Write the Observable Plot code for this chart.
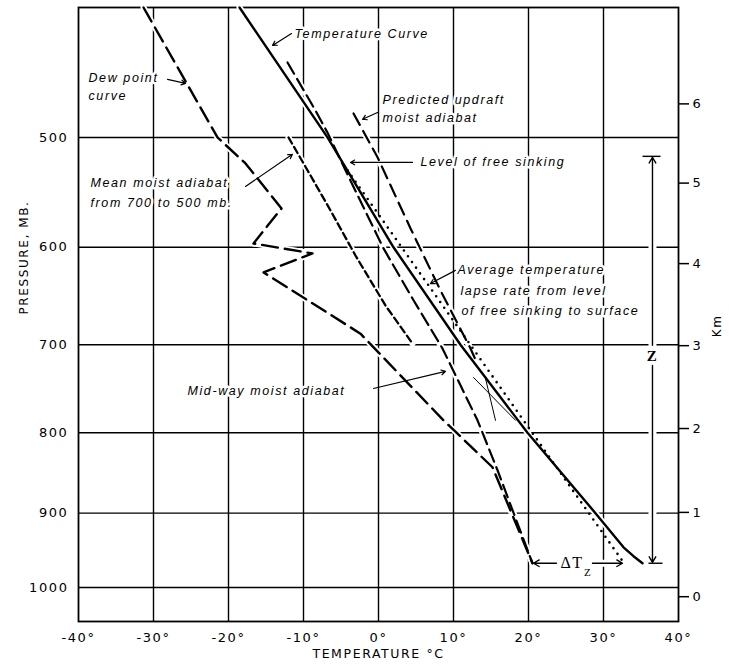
<!DOCTYPE html>
<html><head><meta charset="utf-8">
<script src="https://cdn.jsdelivr.net/npm/d3@7"></script>
<script src="https://cdn.jsdelivr.net/npm/@observablehq/plot@0.6"></script>
<style>body{margin:0;background:#fff}</style>
</head><body>
<div id="chart"></div>
<script>
// Axes / ticks
const tempTicks = [-40, -30, -20, -10, 0, 10, 20, 30, 40];
const tempGrid = [-30, -20, -10, 0, 10, 20, 30];
const pressureTicks = [500, 600, 700, 800, 900, 1000];
const kmPressure = [1013, 899, 795, 701, 616, 540, 472];
const kmLabels = ["0", "1", "2", "3", "4", "5", "6"];

// Series (temperature °C, pressure mb)
const tempCurveT = [-18.53, -6.8, 2.0, 10.93, 19.87, 28.93, 32.67, 34.0, 35.2];
const tempCurveP = [397.8, 500, 600, 700, 800, 900, 945, 957, 966.6];

const dewPointT = [-31.33, -21.47, -17.73, -12.93, -16.67, -8.8, -15.33, -2.4, 8.67, 15.2, 20.53];
const dewPointP = [397.8, 500, 522.5, 563.1, 596.3, 606.0, 624.7, 688.1, 785.3, 841.9, 966.6];

const midwayT = [-12.13, -8.4, -6.8, -4.4, -2.13, 0.67, 4.53, 8.53, 13.2, 15.87, 20.53];
const midwayP = [439.0, 477.5, 495.9, 528.6, 560.3, 601.1, 651.1, 704.0, 785.3, 845.6, 966.6];

const updraftT = [-3.33, -0.13, 4.27, 8.27, 12.27, 13.07];
const updraftP = [479.9, 517.1, 581.9, 643.0, 704.0, 719.0];

const meanMoistT = [-12.0, -9.07, -6.4, -3.07, 0.93, 4.53];
const meanMoistP = [500, 533.1, 565.0, 608.0, 658.4, 698.6];

const avgLapseT = [-4.13, 32.67];
const avgLapseP = [528.6, 965.5];

const construct1T = [12.67, 18.27];
const construct1P = [736.1, 785.3];
const construct2T = [14.27, 15.6];
const construct2P = [737.3, 785.3];

// Annotation texts
const labelTexts = ["Dew point", "curve", "Temperature Curve", "Predicted updraft", "moist adiabat",
  "Level of free sinking", "Mean moist adiabat", "from 700 to 500 mb.", "Average temperature",
  "lapse rate from level", "of free sinking to surface", "Mid-way moist adiabat"];
const labelT = [-38.67, -38.67, -11.2, 0.53, 0.53, 5.6, -38.4, -38.4, 10.53, 10.93, 11.07, -25.47];
const labelP = [451, 465.2, 417.6, 469.2, 483.9, 521.6, 540.3, 558.5, 622.7, 643.0, 663.7, 751.0];

// Leader arrows [T1, P1, T2, P2]
const leaderT1 = [-28.13, -11.6, -0.13, 4.53, -17.73, 10.27, -0.67];
const leaderP1 = [452.3, 417.0, 479.1, 521.6, 543.0, 622.7, 748.5];
const leaderT2 = [-25.73, -14.13, -2.13, -3.73, -11.47, 6.93, 8.93];
const leaderP2 = [455.5, 425.9, 484.7, 521.6, 514.5, 635.9, 729.3];

// Z and ΔTz construction
const zT = 36.53;
const zTopP = 517.1, zBotP = 965.5, zGapTopP = 700.5, zGapBotP = 722.6, zLabelP = 712.0;
const zBarP = [516.3, 966.6];
const zBarT1 = [35.2, 36.0];
const zBarT2 = [37.6, 37.87];
const dtP = 966.6;
const dtArrowT1 = [23.73, 28.53];
const dtArrowT2 = [20.67, 32.53];

const rows = (T, P) => T.map((t, i) => ({t, p: P[i]}));
const kmMap = new Map(kmPressure.map((p, i) => [p, kmLabels[i]]));

const series = [
  {data: rows(tempCurveT, tempCurveP), w: 2.4},
  {data: rows(dewPointT, dewPointP), w: 2.4, dash: "16,7"},
  {data: rows(midwayT, midwayP), w: 2.2, dash: "13,6"},
  {data: rows(updraftT, updraftP), w: 2.2, dash: "13,7"},
  {data: rows(meanMoistT, meanMoistP), w: 2.3, dash: "7,4"}
];

const labels = labelTexts.map((s, i) => ({s, t: labelT[i], p: labelP[i]}));
const leaders = leaderT1.map((t, i) => ({t1: t, p1: leaderP1[i], t2: leaderT2[i], p2: leaderP2[i]}));
const zArrows = [{t: zT, p1: zGapTopP, p2: zTopP}, {t: zT, p1: zGapBotP, p2: zBotP}];
const zBars = zBarP.map((p, i) => ({p, t1: zBarT1[i], t2: zBarT2[i]}));
const dtArrows = dtArrowT1.map((t, i) => ({t1: t, t2: dtArrowT2[i], p: dtP}));

const italic = {fontFamily: "Liberation Sans, Arial, sans-serif", fontStyle: "italic", fontSize: 12.5};

const svg = Plot.plot({
  width: 729,
  height: 666,
  marginTop: 7,
  marginBottom: 45,
  marginLeft: 78,
  marginRight: 51,
  x: {domain: [-40, 40]},
  y: {type: "pow", exponent: 0.286, domain: [397.8, 1048.4], reverse: true},
  marks: [
    Plot.ruleX(tempGrid, {stroke: "black", strokeWidth: 1.4}),
    Plot.ruleY(pressureTicks, {stroke: "black", strokeWidth: 1.4}),
    Plot.frame({stroke: "black", strokeWidth: 1.8}),
    Plot.axisX({ticks: tempTicks, tickFormat: d => `${d}°`, tickSize: 0, tickPadding: 11,
      fontSize: 13, label: null, anchor: "bottom", fontFamily: "DejaVu Sans"}),
    Plot.axisY({ticks: pressureTicks, tickFormat: d => String(d), tickSize: 0, tickPadding: 10, fontSize: 13,
      label: null, anchor: "left", fontFamily: "DejaVu Sans"}),
    Plot.axisY({ticks: kmPressure, tickFormat: d => kmMap.get(d), tickSize: 10, tickPadding: 4,
      fontSize: 13, label: null, anchor: "right", strokeWidth: 1.5, fontFamily: "DejaVu Sans"}),
    Plot.text(["PRESSURE, MB."], {text: d => d, frameAnchor: "left", dx: -54, rotate: -90,
      fontSize: 12, fontFamily: "DejaVu Sans"}),
    Plot.text(["Km"], {text: d => d, frameAnchor: "right", dx: 39, rotate: -90,
      fontSize: 12, fontFamily: "DejaVu Sans"}),
    Plot.text(["TEMPERATURE °C"], {text: d => d, frameAnchor: "bottom", dy: 36,
      fontSize: 12.5, fontFamily: "DejaVu Sans"}),
    // halos
    ...series.map(s => Plot.line(s.data, {x: "t", y: "p", stroke: "white", strokeWidth: 6})),
    Plot.link([{t: zT, p1: zTopP, p2: zBotP}], {x1: "t", x2: "t", y1: "p1", y2: "p2", stroke: "white", strokeWidth: 8}),
    Plot.link(dtArrows, {x1: "t1", x2: "t2", y1: "p", y2: "p", stroke: "white", strokeWidth: 7}),
    // curves
    ...series.map(s => Plot.line(s.data, {x: "t", y: "p", stroke: "black", strokeWidth: s.w,
      ...(s.dash ? {strokeDasharray: s.dash} : {})})),
    Plot.line(rows(avgLapseT, avgLapseP), {x: "t", y: "p", stroke: "black", strokeWidth: 2.6,
      strokeDasharray: "0,7", strokeLinecap: "round"}),
    Plot.line(rows(construct1T, construct1P), {x: "t", y: "p", stroke: "black", strokeWidth: 1}),
    Plot.line(rows(construct2T, construct2P), {x: "t", y: "p", stroke: "black", strokeWidth: 1}),
    // leaders
    Plot.arrow(leaders, {x1: "t1", y1: "p1", x2: "t2", y2: "p2", stroke: "black", strokeWidth: 1.2, headLength: 6}),
    // Z
    Plot.arrow(zArrows, {x1: "t", x2: "t", y1: "p1", y2: "p2", stroke: "black", strokeWidth: 1.4, headLength: 7}),
    Plot.link(zBars, {x1: "t1", x2: "t2", y1: "p", y2: "p", stroke: "black", strokeWidth: 1.4}),
    Plot.arrow(dtArrows, {x1: "t1", x2: "t2", y1: "p", y2: "p", stroke: "black", strokeWidth: 1.4, headLength: 7}),
    Plot.text(["Z"], {text: d => d, x: zT, y: zLabelP, fontSize: 15, fontWeight: "bold",
      fontFamily: "Liberation Serif, serif", stroke: "white", strokeWidth: 5, paintOrder: "stroke", fill: "black"}),
    Plot.text(["ΔT"], {text: d => d, x: 25.8, y: dtP, fontSize: 16,
      fontFamily: "Liberation Serif, serif", stroke: "white", strokeWidth: 4, paintOrder: "stroke", fill: "black"}),
    Plot.text(["Z"], {text: d => d, x: 27.4, y: 978.9, fontSize: 11, textAnchor: "start",
      fontFamily: "Liberation Serif, serif", fill: "black"}),
    // labels
    Plot.text(labels, {x: "t", y: "p", text: "s", textAnchor: "start", lineAnchor: "middle", ...italic,
      fill: "black", stroke: "white", strokeWidth: 5, paintOrder: "stroke"})
  ]
});
svg.style.letterSpacing = "1.6px";
document.getElementById("chart").appendChild(svg);
</script>
</body></html>
